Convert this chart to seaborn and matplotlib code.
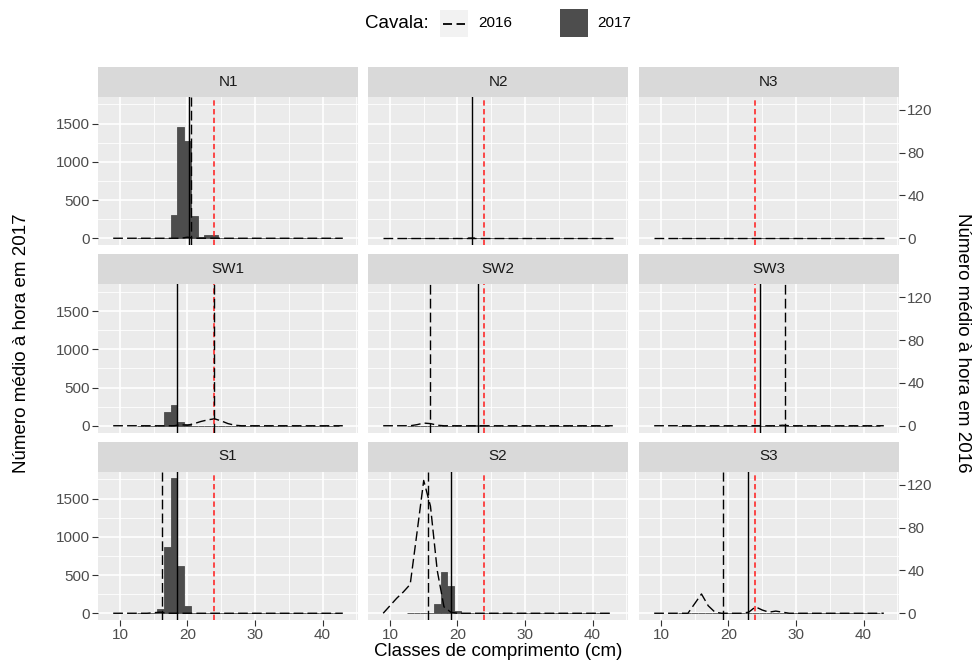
import numpy as np
import matplotlib
matplotlib.use("Agg")
import matplotlib.pyplot as plt
from matplotlib.patches import Rectangle
from matplotlib.lines import Line2D
import seaborn as sns

# ---- data -------------------------------------------------------------
sites = ["N1", "N2", "N3", "SW1", "SW2", "SW3", "S1", "S2", "S3"]

classes_2016 = list(range(9, 44))   # length classes (cm) surveyed in 2016
classes_2017 = list(range(13, 43))  # length classes (cm) surveyed in 2017

# mean number per hour in 2017, by length class (classes not listed = 0)
n1_2017 = {18: 310, 19: 1450, 20: 1275, 21: 290, 22: 12, 23: 45, 24: 45}
n2_2017 = {21: 6, 22: 10}
n3_2017 = {}
sw1_2017 = {17: 175, 18: 275, 19: 55, 20: 20}
sw2_2017 = {22: 4, 23: 5}
sw3_2017 = {24: 5, 25: 1}
s1_2017 = {16: 57, 17: 860, 18: 1765, 19: 613, 20: 91}
s2_2017 = {17: 122, 18: 535, 19: 361, 20: 26, 21: 8, 22: 5}
s3_2017 = {21: 3, 22: 5, 23: 6}

# mean number per hour in 2016, by length class (classes not listed = 0)
n1_2016 = {20: 1}
n2_2016 = {}
n3_2016 = {}
sw1_2016 = {19: 1, 20: 0.5, 21: 2, 22: 4, 23: 5.5, 24: 6.5, 25: 4.5, 26: 2, 27: 0.5}
sw2_2016 = {14: 1, 15: 2.5, 16: 2, 17: 0.5}
sw3_2016 = {28: 0.5}
s1_2016 = {15: 0.5, 16: 1}
s2_2016 = {10: 7, 11: 14, 12: 20, 13: 27, 14: 75, 15: 124, 16: 100, 17: 40, 18: 6, 19: 1}
s3_2016 = {15: 9, 16: 18, 17: 7, 18: 1, 23: 1, 24: 6, 25: 3, 26: 1, 27: 2, 28: 1}

# mean length per site (vertical reference lines); nan = no catch
mean_2017 = [20.2, 22.1, np.nan, 18.4, 23.0, 24.6, 18.5, 19.0, 22.85]
mean_2016 = [20.5, np.nan, np.nan, 23.9, 15.9, 28.3, 16.2, 15.6, 19.2]

minimum_size = 24        # minimum landing size (cm)
sec_factor = 14          # 2017 axis units per 2016 axis unit

counts_2017 = [n1_2017, n2_2017, n3_2017, sw1_2017, sw2_2017, sw3_2017, s1_2017, s2_2017, s3_2017]
counts_2016 = [n1_2016, n2_2016, n3_2016, sw1_2016, sw2_2016, sw3_2016, s1_2016, s2_2016, s3_2016]

x_ticks = [10, 20, 30, 40]
y_ticks = [0, 500, 1000, 1500]
y2_ticks = [0, 40, 80, 120]

# ---- style ------------------------------------------------------------
plt.rcParams["font.family"] = ["Liberation Sans", "DejaVu Sans"]

PANEL_BG = "#EBEBEB"
STRIP_BG = "#D9D9D9"
BAR = "#4D4D4D"
TICK_TXT = "#4D4D4D"
TICK_COL = "#333333"
DASH = (0, (7, 3))
RED_DASH = (0, (3.5, 2.2))

W, H = 975, 663
fig = plt.figure(figsize=(W / 100, H / 100), dpi=100)


def frect(x, y, w, h):
    return [x / W, 1 - (y + h) / H, w / W, h / H]


col_x = [98, 368, 639]
row_top = [96.5, 284, 471.5]
panel_w, panel_h, strip_h = 260, 148.5, 30

all_max = max(max([max(d.values()) for d in counts_2017 if d]),
              max([max(d.values()) * sec_factor for d in counts_2016 if d]))
ylim = (-0.05 * all_max, 1.05 * all_max)
xlim = (6.75, 45.25)

for i, site in enumerate(sites):
    r, c = divmod(i, 3)
    ax = fig.add_axes(frect(col_x[c], row_top[r], panel_w, panel_h))
    ax.set_facecolor(PANEL_BG)

    w17 = [counts_2017[i].get(k, 0) for k in classes_2017]
    sns.histplot(x=classes_2017, weights=w17, discrete=True, ax=ax,
                 color=BAR, alpha=1, edgecolor=BAR, linewidth=0.6)

    v16 = np.array([counts_2016[i].get(k, 0) for k in classes_2016], dtype=float) * sec_factor
    sns.lineplot(x=classes_2016, y=v16, ax=ax, color="black", linewidth=1.0,
                 linestyle=DASH, errorbar=None)

    ax.axvline(minimum_size, color="#FF1A1A", lw=1.1, ls=RED_DASH, zorder=3)
    if not np.isnan(mean_2017[i]):
        ax.axvline(mean_2017[i], color="black", lw=1.0, zorder=4)
    if not np.isnan(mean_2016[i]):
        ax.axvline(mean_2016[i], color="black", lw=1.0, ls=DASH, zorder=4)

    ax.set_xlim(*xlim)
    ax.set_ylim(*ylim)
    ax.set_xlabel("")
    ax.set_ylabel("")
    ax.set_xticks(x_ticks)
    ax.set_xticks([15, 25, 35, 45], minor=True)
    ax.set_yticks(y_ticks)
    ax.set_yticks([250, 750, 1250, 1750], minor=True)
    ax.grid(which="major", color="white", lw=1.2)
    ax.grid(which="minor", color="white", lw=0.6)
    ax.set_axisbelow(True)
    for s in ax.spines.values():
        s.set_visible(False)
    ax.tick_params(which="minor", length=0)
    ax.tick_params(which="major", length=4, width=0.8, color=TICK_COL,
                   labelsize=11, labelcolor=TICK_TXT, pad=2)
    if c != 0:
        ax.tick_params(axis="y", length=0, labelleft=False)
    if r != 2:
        ax.tick_params(axis="x", length=0, labelbottom=False)

    if c == 2:
        sec = ax.secondary_yaxis("right", functions=(lambda v: v / sec_factor,
                                                     lambda v: v * sec_factor))
        sec.set_yticks(y2_ticks)
        sec.tick_params(length=4, width=0.8, color=TICK_COL, labelsize=11,
                        labelcolor=TICK_TXT, pad=2)
        for s in sec.spines.values():
            s.set_visible(False)

    sax = fig.add_axes(frect(col_x[c], row_top[r] - strip_h, panel_w, strip_h))
    sax.set_facecolor(STRIP_BG)
    sax.set_xticks([])
    sax.set_yticks([])
    for s in sax.spines.values():
        s.set_visible(False)
    sax.text(0.5, 0.5, site, ha="center", va="center", fontsize=11,
             color="#1A1A1A", transform=sax.transAxes)

# axis titles
fig.text(498.5 / W, 1 - 652 / H, "Classes de comprimento (cm)", ha="center",
         va="center", fontsize=13.5)
fig.text(22 / W, 1 - 343 / H, "Número médio à hora em 2017", ha="center",
         va="center", rotation=90, fontsize=13.5)
fig.text(962 / W, 1 - 343 / H, "Número médio à hora em 2016", ha="center",
         va="center", rotation=-90, fontsize=13.5)

# legend
fig.text(365 / W, 1 - 23 / H, "Cavala:", ha="left", va="center", fontsize=13.5)
fig.patches.append(Rectangle((440 / W, 1 - 37 / H), 28 / W, 27 / H,
                             transform=fig.transFigure, facecolor="#F2F2F2",
                             edgecolor="none"))
fig.lines.append(Line2D([443 / W, 465 / W], [1 - 23.5 / H, 1 - 23.5 / H],
                        transform=fig.transFigure, color="black", lw=1.3,
                        ls=(0, (5, 2.5))))
fig.text(478 / W, 1 - 23 / H, "2016", ha="left", va="center", fontsize=11)
fig.patches.append(Rectangle((560 / W, 1 - 37 / H), 28 / W, 28 / H,
                             transform=fig.transFigure, facecolor=BAR,
                             edgecolor="none"))
fig.text(597 / W, 1 - 23 / H, "2017", ha="left", va="center", fontsize=11)

fig.savefig("out.png", dpi=100, facecolor="white")
